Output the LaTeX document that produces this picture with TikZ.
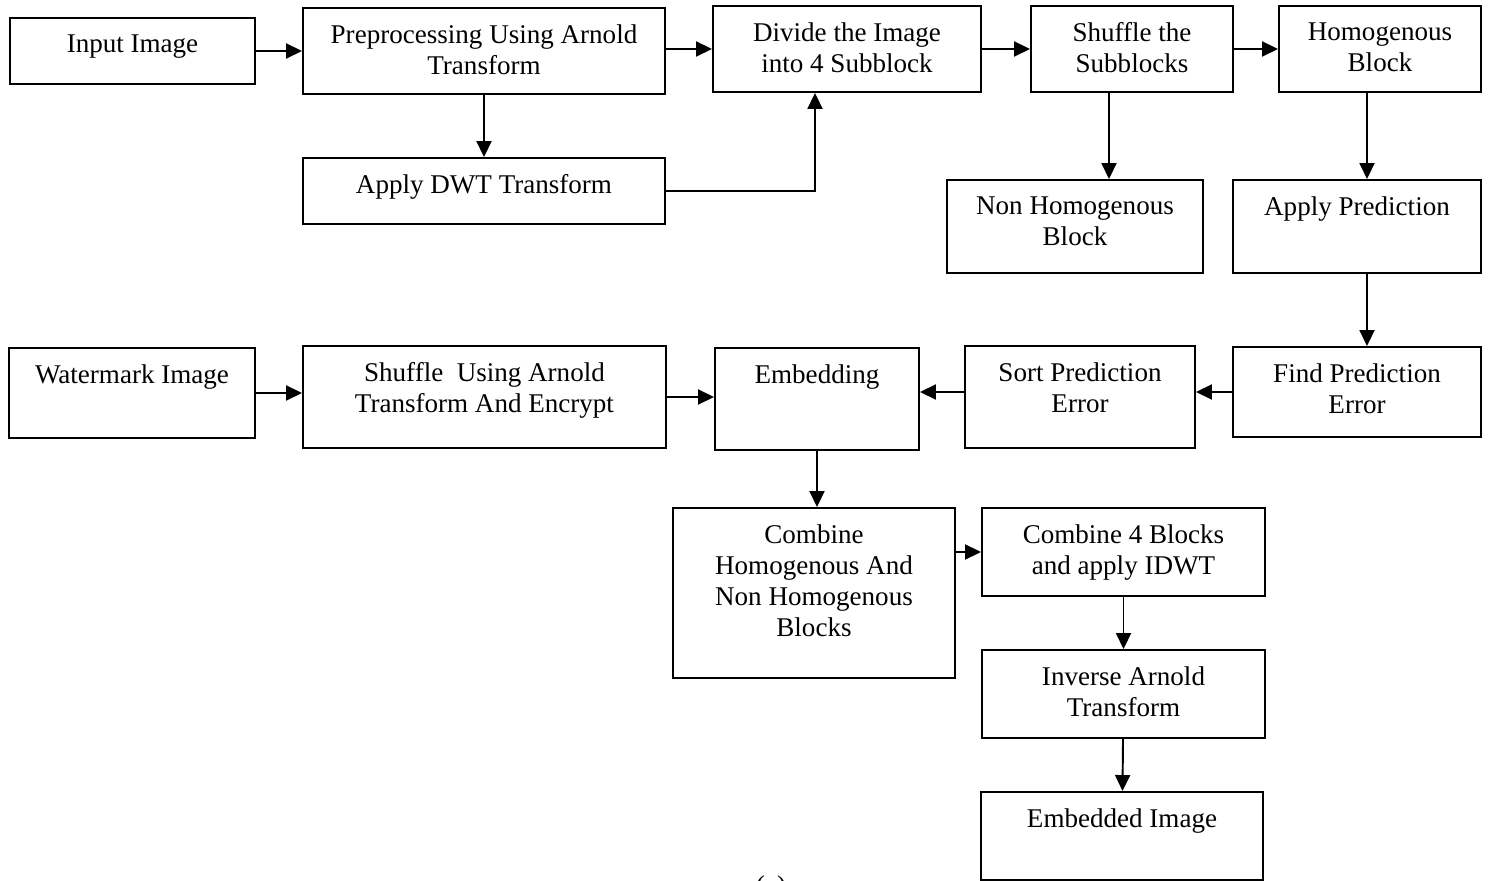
\documentclass[tikz,border=0pt]{standalone}
\usepackage{fontspec}
\setmainfont{Liberation Serif}
\usetikzlibrary{positioning}
\usetikzlibrary{arrows.meta, calc}

\begin{document}
\begin{tikzpicture}[x=0.02cm,y=-0.02cm,
  fnt/.style={font=\fontsize{15.4}{17.6}\selectfont},
  blk/.style 2 args={draw,line width=1.1pt,inner sep=0pt,minimum width=#1*0.02cm,minimum height=#2*0.02cm},
  txt/.style={fnt,anchor=north,yshift=-0.35cm,inner sep=0pt,align=center},
  arr/.style={line width=1.1pt,-{Triangle[length=0.32cm,width=0.3cm]}}]
\useasboundingbox (0,0) rectangle (1491,881);

% first row
\node[blk={245}{66},label={[txt]north:Input Image}] (inp) at (132.5,51) {};
\node[blk={362}{86},label={[txt]north:{Preprocessing Using Arnold\\Transform}}] (pre) at (484,51) {};
\node[blk={362}{66},label={[txt]north:Apply DWT Transform}] (dwt) at (484,191) {};
\node[blk={268}{86},label={[txt]north:{Divide the Image\\into 4 Subblock}}] (div) at (847,49) {};
\node[blk={202}{86},label={[txt]north:{Shuffle the\\Subblocks}}] (shf) at (1132,49) {};
\node[blk={202}{86},label={[txt]north:{Homogenous\\Block}}] (hom) at (1380,49) {};
\node[blk={256}{93},label={[txt]north:{Non Homogenous\\Block}}] (nhb) at (1075,226.5) {};
\node[blk={248}{93},label={[txt]north:Apply Prediction}] (apd) at (1357,226.5) {};

% second row
\node[blk={246}{90},label={[txt]north:Watermark Image}] (wmk) at (132,393) {};
\node[blk={363}{102},label={[txt]north:{Shuffle~ Using Arnold\\Transform And Encrypt}}] (sua) at (484.5,397) {};
\node[blk={204}{102},label={[txt]north:Embedding}] (emb) at (817,399) {};
\node[blk={230}{102},label={[txt]north:{Sort Prediction\\Error}}] (spe) at (1080,397) {};
\node[blk={248}{90},label={[txt]north:{Find Prediction\\Error}}] (fpe) at (1357,392) {};

% output part
\node[blk={282}{170},label={[txt]north:{Combine\\Homogenous And\\Non Homogenous\\Blocks}}] (cmb) at (814,593) {};
\node[blk={283}{88},label={[txt]north:{Combine 4 Blocks\\and apply IDWT}}] (c4b) at (1123.5,552) {};
\node[blk={283}{88},label={[txt]north:{Inverse Arnold\\Transform}}] (iat) at (1123.5,694) {};
\node[blk={282}{88},label={[txt]north:Embedded Image}] (emi) at (1122,836) {};
\node[fnt,anchor=north,inner sep=0pt] (cap) at (771,875) {(a)};

\coordinate (spo) at ($(spe.west)+(0,-5)$);
\draw[arr] (inp) -- (pre);
\draw[arr] (pre.east |- div.west) -- (div.west);
\draw[arr] (div) -- (shf);
\draw[arr] (shf) -- (hom);
\draw[arr] (pre) -- (dwt);
\draw[arr] (dwt.east) -| ($(div.south)+(-32,0)$);
\draw[arr] ($(shf.south)+(-23,0)$) -- ($(nhb.north)+(34,0)$);
\draw[arr] ($(hom.south)+(-13,0)$) -- ($(apd.north)+(10,0)$);
\draw[arr] ($(apd.south)+(10,0)$) -- ($(fpe.north)+(10,0)$);
\draw[arr] (fpe.west) -- (fpe.west -| spe.east);
\draw[arr] (spo) -- (spo -| emb.east);
\draw[arr] (wmk.east) -- (wmk.east -| sua.west);
\draw[arr] (sua.east) -- (sua.east -| emb.west);
\draw[arr] (emb.south) -- (emb.south |- cmb.north);
\draw[arr] (cmb.east |- c4b.west) -- (c4b.west);
\draw[arr] (c4b) -- (iat);
\draw[arr] (iat) -- (emi);

\end{tikzpicture}
\end{document}
